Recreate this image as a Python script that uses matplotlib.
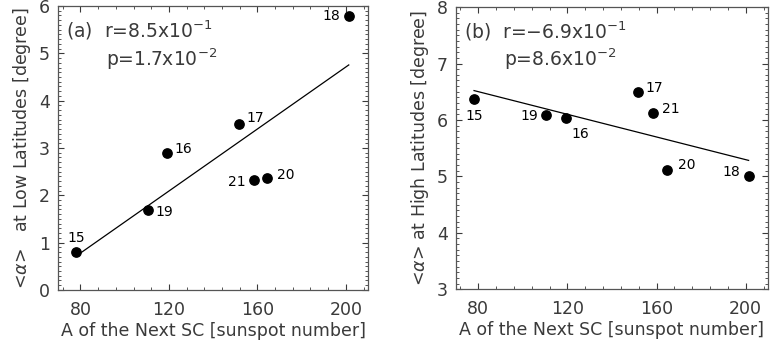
import numpy as np
import matplotlib
matplotlib.use("Agg")
import matplotlib.pyplot as plt
from matplotlib.ticker import MultipleLocator

# solar cycle numbers and amplitude of the next cycle
cycles = ["15", "16", "17", "18", "19", "20", "21"]
amp_next = [78.1, 119.2, 151.8, 201.3, 110.6, 164.5, 158.5]
alpha_low = [0.80, 2.89, 3.51, 5.78, 1.68, 2.37, 2.32]
alpha_high = [6.37, 6.04, 6.50, 5.01, 6.09, 5.12, 6.12]

# label offsets (points) and alignment for each cycle label
offs_a = {"15": (0, 10, "center"), "16": (5, 3, "left"), "17": (5, 4, "left"),
          "18": (-6, 0, "right"), "19": (5, -1, "left"), "20": (7, 2, "left"),
          "21": (-6, -1, "right")}
offs_b = {"15": (0, -12, "center"), "16": (4, -12, "left"), "17": (5, 3, "left"),
          "18": (-6, 3, "right"), "19": (-6, -1, "right"), "20": (8, 3, "left"),
          "21": (6, 3, "left")}

txt = "#3a3a3a"
plt.rcParams["font.family"] = ["DejaVu Sans"]
plt.rcParams["text.color"] = txt
plt.rcParams["axes.labelcolor"] = txt
plt.rcParams["xtick.color"] = txt
plt.rcParams["ytick.color"] = txt

fig = plt.figure(figsize=(7.84, 3.54), dpi=100)
ax1 = fig.add_axes([0.0744, 0.181, 0.395, 0.802])
ax2 = fig.add_axes([0.5816, 0.183, 0.398, 0.797])


def panel(ax, y, ylim, ylabel, offs, tag, r, p):
    x = np.array(amp_next)
    y = np.array(y)
    ax.scatter(x, y, s=45, color="black", zorder=3)
    k, b = np.polyfit(x, y, 1)
    xl = np.array([x.min(), x.max()])
    ax.plot(xl, k * xl + b, color="black", lw=0.9)
    for c, xi, yi in zip(cycles, x, y):
        dx, dy, ha = offs[c]
        ax.annotate(c, (xi, yi), xytext=(dx, dy), textcoords="offset points",
                    ha=ha, va="center", fontsize=10, color="black")
    ax.set_xlim(70, 210)
    ax.set_ylim(*ylim)
    ax.xaxis.set_major_locator(MultipleLocator(40))
    ax.xaxis.set_minor_locator(MultipleLocator(8))
    ax.yaxis.set_major_locator(MultipleLocator(1))
    ax.yaxis.set_minor_locator(MultipleLocator(0.1))
    ax.tick_params(which="both", direction="in", top=True, right=True, labelsize=12.5)
    ax.tick_params(which="major", length=4, width=0.8)
    ax.tick_params(axis="x", which="major", pad=8)
    ax.tick_params(axis="y", which="major", pad=6)
    ax.tick_params(which="minor", length=2, width=0.6)
    for s in ax.spines.values():
        s.set_color("#555555")
        s.set_linewidth(0.9)
    ax.set_xlabel("A of the Next SC [sunspot number]", fontsize=12.5, labelpad=2)
    ax.set_ylabel(ylabel, fontsize=12.5, labelpad=4)
    ax.text(0.025, 0.89, tag + "  r=" + r, transform=ax.transAxes, fontsize=13.5)
    ax.text(0.155, 0.79, "p=" + p, transform=ax.transAxes, fontsize=13.5)


panel(ax1, alpha_low, (0, 6), r"<$\alpha$>   at Low Latitudes [degree]", offs_a,
      "(a)", r"8.5x10$^{-1}$", r"1.7x10$^{-2}$")
panel(ax2, alpha_high, (3, 8), r"<$\alpha$> at High Latitudes [degree]", offs_b,
      "(b)", r"$-$6.9x10$^{-1}$", r"8.6x10$^{-2}$")

fig.savefig("out.png", dpi=100)
